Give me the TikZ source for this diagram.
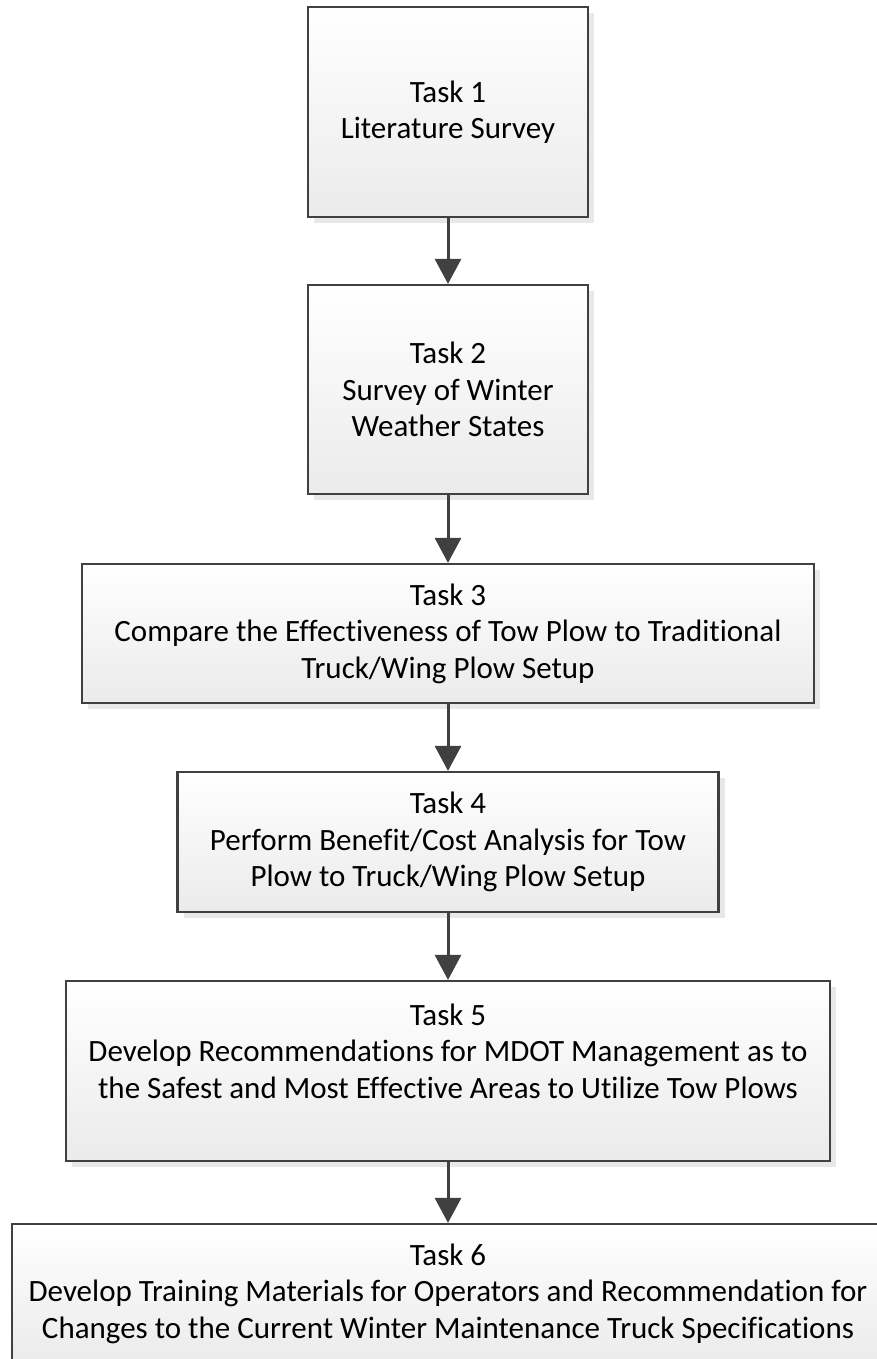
\documentclass[tikz,border=0pt]{standalone}
\usepackage{fontspec}
\setmainfont{Carlito}[Ligatures=NoCommon]
\usepackage{tikz}
\usetikzlibrary{arrows.meta}
\usetikzlibrary{shadows}
\definecolor{edgegray}{RGB}{64,64,64}
\tikzstyle{taskbox}=[draw=edgegray, line width=2.2pt, shape=rectangle, top color=white, bottom color=black!8, drop shadow={shadow xshift=6pt, shadow yshift=-6pt, fill=black!9, opacity=1}, inner sep=0pt, align=center, font=\fontsize{31}{36.5}\selectfont]
\tikzstyle{taskarrow}=[-{Triangle[length=25pt, width=26pt]}, line width=3pt, color=edgegray]

\begin{document}
\begin{tikzpicture}[x=1pt, y=1pt]
\useasboundingbox (0,0) rectangle (876,-1359);
\node [taskbox, minimum width=280pt, minimum height=210pt] (task1) at (448,-112) {Task 1\\Literature Survey};
\node [taskbox, minimum width=280pt, minimum height=209pt] (task2) at (448,-389.5) {Task 2\\Survey of Winter\\Weather States};
\node [taskbox, minimum width=732pt, minimum height=139pt] (task3) at (448,-633.5) {Task 3\\Compare the Effectiveness of Tow Plow to Traditional\\Truck/Wing Plow Setup};
\node [taskbox, minimum width=541pt, minimum height=140pt] (task4) at (448,-842) {Task 4\\Perform Benefit/Cost Analysis for Tow\\Plow to Truck/Wing Plow Setup};
\node [taskbox, minimum width=764pt, minimum height=180pt, text depth=40pt] (task5) at (448,-1071) {Task 5\\Develop Recommendations for MDOT Management as to\\the Safest and Most Effective Areas to Utilize Tow Plows};
\node [taskbox, minimum width=872pt, minimum height=139pt] (task6) at (448,-1293.5) {Task 6\\Develop Training Materials for Operators and Recommendation for\\Changes to the Current Winter Maintenance Truck Specifications};

\draw [taskarrow] (task1) -- (task2);
\draw [taskarrow] (task2) -- (task3);
\draw [taskarrow] (task3) -- (task4);
\draw [taskarrow] (task4) -- (task5);
\draw [taskarrow] (task5) -- (task6);
\end{tikzpicture}
\end{document}
